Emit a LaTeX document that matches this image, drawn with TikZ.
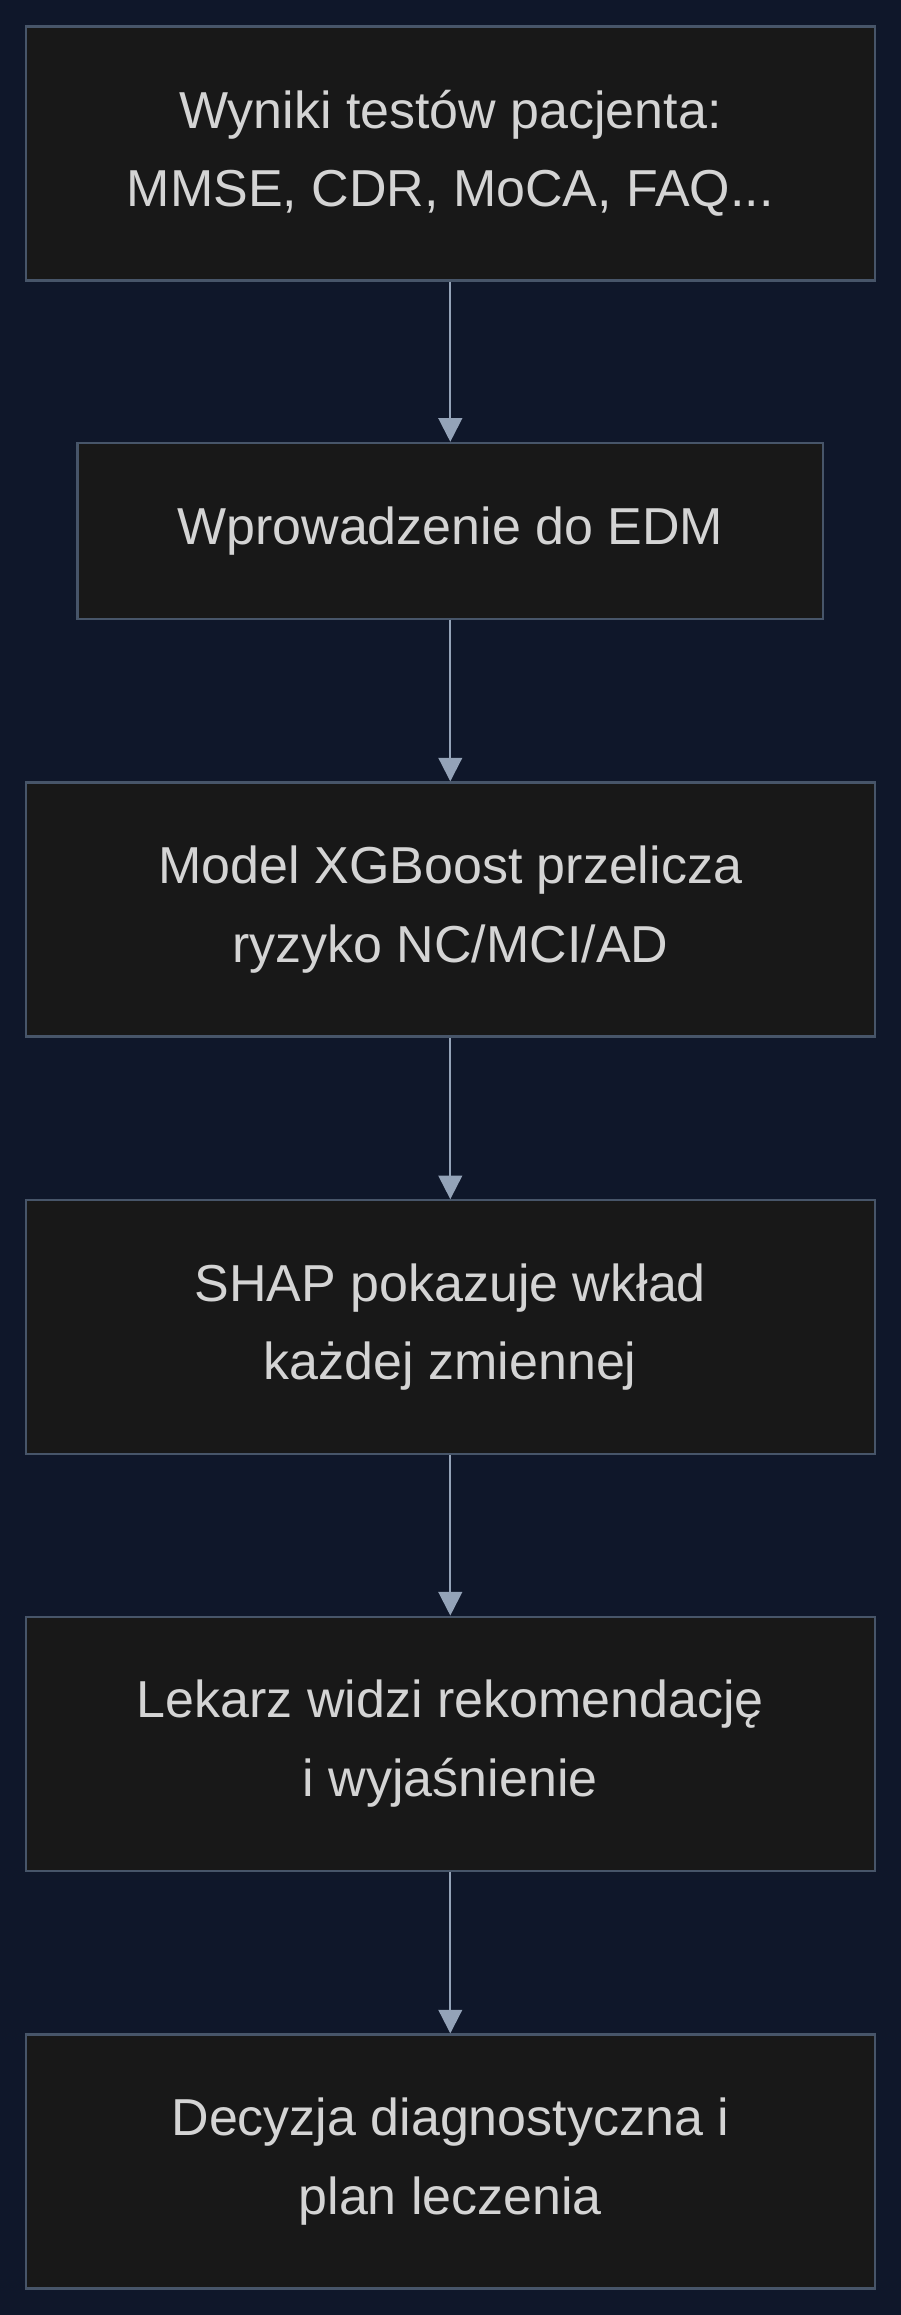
\documentclass[tikz,border=0pt]{standalone}
\usepackage{fontspec}
\setmainfont{Liberation Sans}
\usetikzlibrary{arrows.meta}
\definecolor{bg}{HTML}{0F172A}
\definecolor{boxfill}{HTML}{181818}
\definecolor{boxline}{HTML}{475569}
\definecolor{txt}{HTML}{D4D4D4}
\definecolor{arr}{HTML}{94A3B8}
\tikzset{
 stepbox/.style={draw=boxline, line width=1.5pt, fill=boxfill, text=txt, align=center,
   font=\fontsize{35.2}{53}\selectfont, inner sep=0pt},
 conn/.style={draw=arr, line width=1.5pt, -{Triangle[length=16pt,width=16pt]}}
}
\begin{document}
\begin{tikzpicture}[x=1pt,y=-1pt]
\fill[bg] (0,0) rectangle (610,1568);
\useasboundingbox (0,0) rectangle (610,1568);
\node[stepbox, minimum width=575pt, minimum height=172pt] (a) at (305,104) {Wyniki testów pacjenta:\\MMSE, CDR, MoCA, FAQ...};
\node[stepbox, minimum width=505pt, minimum height=119pt] (b) at (305,359.5) {Wprowadzenie do EDM};
\node[stepbox, minimum width=575pt, minimum height=172pt] (c) at (305,616) {Model XGBoost przelicza\\ryzyko NC/MCI/AD};
\node[stepbox, minimum width=575pt, minimum height=172pt] (d) at (305,899) {SHAP pokazuje wkład\\każdej zmiennej};
\node[stepbox, minimum width=575pt, minimum height=172pt] (e) at (305,1181) {Lekarz widzi rekomendację\\i wyjaśnienie};
\node[stepbox, minimum width=575pt, minimum height=172pt] (f) at (305,1464) {Decyzja diagnostyczna i\\plan leczenia};
\draw[conn] (a.south) -- (b.north);
\draw[conn] (b.south) -- (c.north);
\draw[conn] (c.south) -- (d.north);
\draw[conn] (d.south) -- (e.north);
\draw[conn] (e.south) -- (f.north);
\end{tikzpicture}
\end{document}
